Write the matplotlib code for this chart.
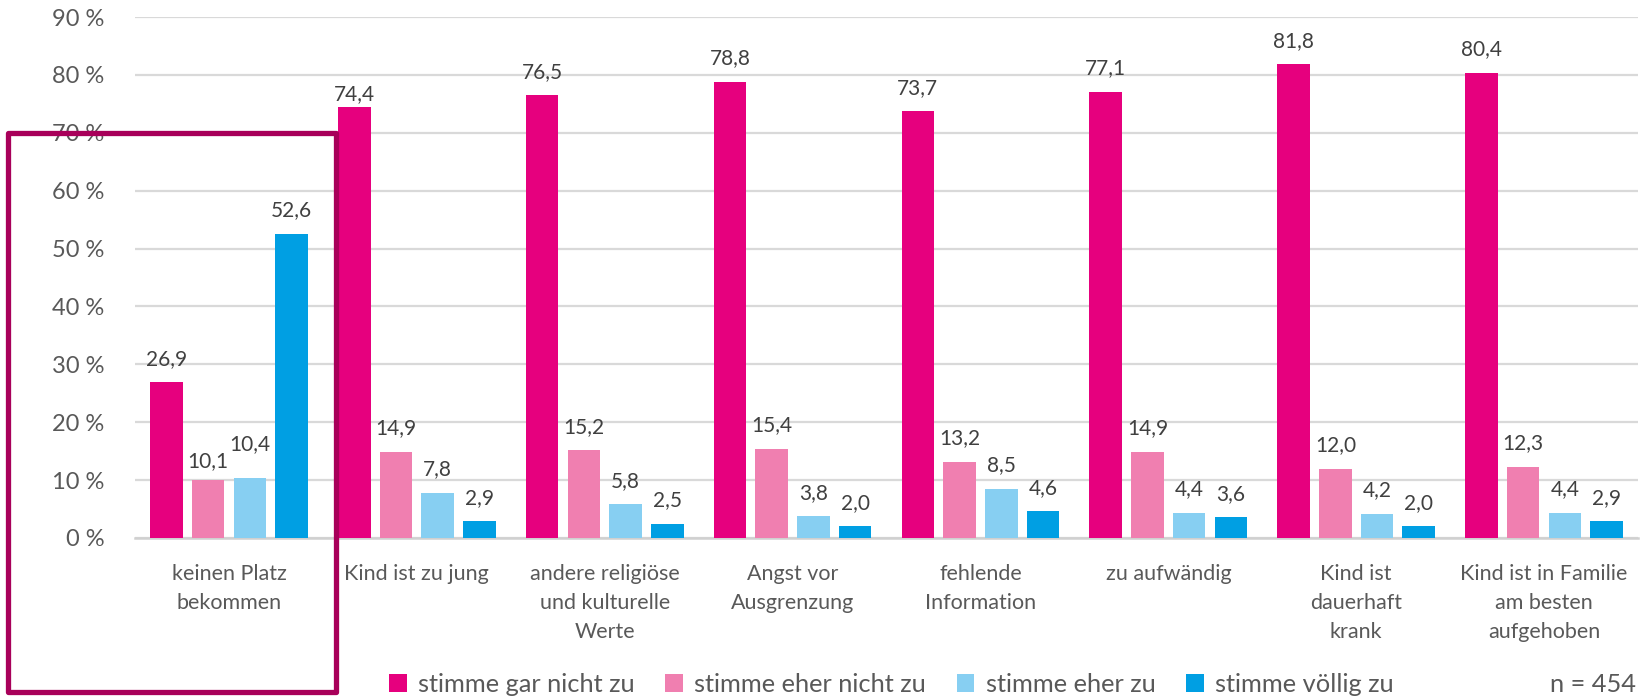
import matplotlib
matplotlib.use("Agg")
import matplotlib.pyplot as plt
import numpy as np
from matplotlib.patches import Rectangle, Patch

categories = ["keinen Platz\nbekommen", "Kind ist zu jung", "andere religiöse\nund kulturelle\nWerte",
              "Angst vor\nAusgrenzung", "fehlende\nInformation", "zu aufwändig",
              "Kind ist\ndauerhaft\nkrank", "Kind ist in Familie\nam besten\naufgehoben"]
series_names = ["stimme gar nicht zu", "stimme eher nicht zu", "stimme eher zu", "stimme völlig zu"]
gar_nicht = [26.9, 74.4, 76.5, 78.8, 73.7, 77.1, 81.8, 80.4]
eher_nicht = [10.1, 14.9, 15.2, 15.4, 13.2, 14.9, 12.0, 12.3]
eher_zu = [10.4, 7.8, 5.8, 3.8, 8.5, 4.4, 4.2, 4.4]
voellig = [52.6, 2.9, 2.5, 2.0, 4.6, 3.6, 2.0, 2.9]
yticks = [0, 10, 20, 30, 40, 50, 60, 70, 80, 90]
note = "n = 454"

colors = ["#E6007E", "#F07FB0", "#87CFF2", "#009FE3"]
FONT = "Lato"
plt.rcParams['font.family'] = [FONT, 'DejaVu Sans']

# label offset tweaks (series index, category index) -> points
label_offset_default = 12.5
label_offset_special = {(0, 1): 5.5, (1, 0): 9.0, (2, 0): 20.0}

fig = plt.figure(figsize=(16.48, 6.98), dpi=100)
ax = fig.add_axes([135/1648, 1-538/698, (1638-135)/1648, (538-17)/698])

x = np.arange(len(categories))
step = 0.222
width = 0.173
all_series = [gar_nicht, eher_nicht, eher_zu, voellig]
for i, (vals, col) in enumerate(zip(all_series, colors)):
    pos = x + (i - 1.5) * step
    ax.bar(pos, vals, width=width, color=col, zorder=3, label=series_names[i])
    for j, (p, v) in enumerate(zip(pos, vals)):
        off = label_offset_special.get((i, j), label_offset_default)
        ax.annotate(f"{v:.1f}".replace(".", ","), (p, v), xytext=(0, off), textcoords="offset points",
                    ha="center", va="baseline", fontsize=15, color="#404040")

ax.set_xlim(-0.5, len(categories) - 0.5)
ax.set_ylim(0, 90)
ax.set_yticks(yticks)
ax.set_yticklabels([f"{t} %" for t in yticks], fontsize=17, color="#595959")
ax.yaxis.grid(True, color="#D9D9D9", linewidth=1.6, zorder=0)
ax.set_axisbelow(True)
ax.tick_params(axis="y", length=0, pad=22)
ax.set_xticks(x)
ax.set_xticklabels(categories, fontsize=15.5, color="#595959", va="top")
for lbl in ax.get_xticklabels():
    lbl.set_linespacing(1.55)
ax.tick_params(axis="x", length=0, pad=19)
for s in ["left", "right", "top"]:
    ax.spines[s].set_visible(False)
ax.spines["bottom"].set_color("#D0D0D0")
ax.spines["bottom"].set_linewidth(1.8)

handles = [Patch(facecolor=c, edgecolor="none") for c in colors]
leg = fig.legend(handles, series_names, loc="center left", bbox_to_anchor=(376/1648, 1-684/698),
                 ncol=4, frameon=False, fontsize=18.3, handlelength=0.7, handleheight=0.7,
                 handletextpad=0.45, columnspacing=1.2, labelcolor="#595959", borderpad=0)
fig.text(1636/1648, 1-684/698, note, ha="right", va="center", fontsize=18.3, color="#595959")

fig.patches.append(Rectangle((8/1648, 1-692/698), 328/1648, 559/698, transform=fig.transFigure,
                             fill=False, edgecolor="#A8005A", linewidth=3.8, joinstyle="round", zorder=10))

fig.savefig("out.png", dpi=100)
